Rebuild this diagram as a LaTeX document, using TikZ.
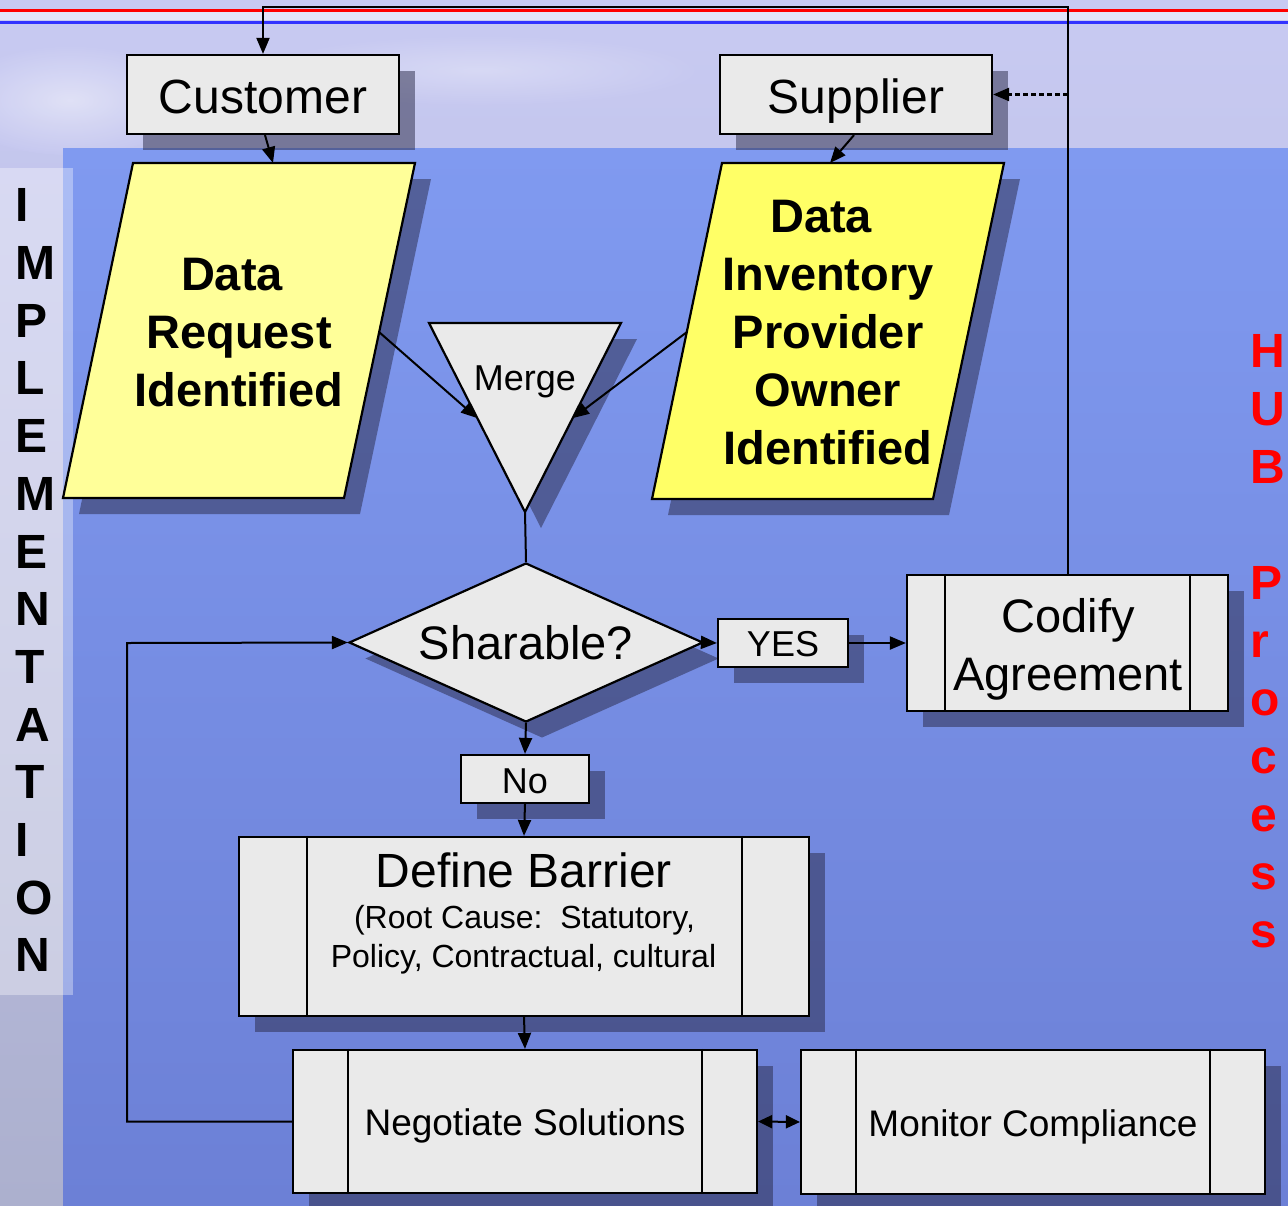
\documentclass[tikz,border=0pt]{standalone}
\usepackage{fontspec}
\setmainfont{Liberation Sans}
\usetikzlibrary{shadows,arrows.meta,calc,shapes.geometric}

\definecolor{boxgray}{RGB}{234,234,234}
\definecolor{ylight}{RGB}{255,255,153}
\definecolor{ybright}{RGB}{255,255,102}
\definecolor{shcol}{RGB}{40,40,70}
\definecolor{skytop}{RGB}{200,202,242}
\definecolor{skybot}{RGB}{172,176,206}
\definecolor{seatop}{RGB}{128,154,240}
\definecolor{seabot}{RGB}{108,128,214}
\definecolor{hubred}{RGB}{255,0,0}
\definecolor{lineblue}{RGB}{50,50,255}

\begin{document}
\begin{tikzpicture}[x=1pt,y=-1pt,
  shad/.style={drop shadow={shadow xshift=16pt,shadow yshift=-16pt,fill=shcol,opacity=0.5}},
  box/.style={draw=black,line width=2.2pt,fill=boxgray,inner sep=0pt,shad},
  inner/.style={draw=black,line width=1.6pt},
  conn/.style={line width=2pt,draw=black},
  arr/.style={conn,-{Triangle[length=16pt,width=13pt]}},
  lbl/.style={inner sep=0pt,anchor=base,text=black},
  big/.style={font=\fontsize{48}{58}\selectfont},
  mid/.style={font=\fontsize{37}{44}\selectfont},
  para/.style={draw=black,line width=2.2pt,shad},
]
\useasboundingbox (0,0) rectangle (1288,1205);
% background
\shade[top color=skytop,bottom color=skybot] (0,0) rectangle (1288,1205);
\shade[inner color=white,outer color=skytop,opacity=0.45] (70,100) ellipse (120pt and 55pt);
\shade[inner color=white,outer color=skytop,opacity=0.3] (480,70) ellipse (220pt and 35pt);
\shade[top color=seatop,bottom color=seabot] (63,148) rectangle (1288,1205);
\fill[white,opacity=0.35] (0,168) rectangle (73,995);
% top rules
\fill[white,opacity=0.5] (0,12) rectangle (1288,20);
\draw[red,line width=3pt] (0,10.5) -- (1288,10.5);
\draw[lineblue,line width=3pt] (0,22) -- (1288,22);

% Customer / Supplier
\node[box,big,minimum width=272pt,minimum height=79pt,text height=37pt,text depth=0pt] (cust) at (263,94.5) {Customer};
\node[box,big,minimum width=272pt,minimum height=79pt,text height=37pt,text depth=0pt] (sup) at (856,94.5) {Supplier};

% parallelograms
\path[para,fill=ylight] (133,163) -- (415,163) -- (344,498) -- (63,498) -- cycle;
\coordinate (drtop) at (273,163);
\coordinate (drright) at (379,332);
\node[font=\bfseries\fontsize{47}{58}\selectfont,align=center,inner sep=0pt] (drt) at (239,333) {Data\hspace*{14pt}\\Request\\Identified};

\path[para,fill=ybright] (722,163) -- (1004,163) -- (933,499) -- (652,499) -- cycle;
\coordinate (ditop) at (830,163);
\coordinate (dileft) at (687,332);
\node[font=\bfseries\fontsize{47}{58}\selectfont,align=center,inner sep=0pt] (dit) at (828,333) {Data\hspace*{14pt}\\Inventory\\Provider\\Owner\\Identified};

% merge triangle
\path[para,fill=boxgray] (429,323) -- (621,323) -- (525,512) -- cycle;
\coordinate (mgl) at (477,418);
\coordinate (mgr) at (573,418);
\coordinate (mgb) at (525,512);
\node[lbl,font=\fontsize{36}{40}\selectfont] (mgt) at (525,390) {Merge};

% decision
\node[box,diamond,aspect=2.2,minimum width=354pt,minimum height=159pt,text height=34pt,text depth=0pt,font=\fontsize{47}{56}\selectfont] (sh) at (526,642.5) {Sharable?};
\node[box,font=\fontsize{36}{40}\selectfont,minimum width=130pt,minimum height=48pt,text height=26pt,text depth=0pt] (yes) at (783,643) {YES};
\node[box,font=\fontsize{36}{40}\selectfont,minimum width=128pt,minimum height=48pt,text height=28pt,text depth=0pt] (no) at (525,779) {No};

% codify
\node[box,minimum width=321pt,minimum height=136pt] (cod) at (1067.5,643) {};
\draw[inner] ([xshift=39pt]cod.north west) -- ([xshift=39pt]cod.south west);
\draw[inner] ([xshift=-39pt]cod.north east) -- ([xshift=-39pt]cod.south east);
\node[align=center,font=\fontsize{47}{58}\selectfont,inner sep=0pt] (codt) at (1068,649) {Codify\\Agreement};

% define barrier
\node[box,minimum width=570pt,minimum height=179pt] (db) at (524,926.5) {};
\draw[inner] ([xshift=69pt]db.north west) -- ([xshift=69pt]db.south west);
\draw[inner] ([xshift=-68pt]db.north east) -- ([xshift=-68pt]db.south east);
\node[lbl,font=\fontsize{48}{52}\selectfont] (dbt1) at (524,887) {Define Barrier};
\node[lbl,font=\fontsize{32}{36}\selectfont] (dbt2) at (524.5,928) {(Root Cause:\ \ Statutory,};
\node[lbl,font=\fontsize{32}{36}\selectfont] (dbt3) at (523.5,967) {Policy, Contractual, cultural};

% negotiate / monitor
\node[box,mid,minimum width=464pt,minimum height=143pt,text height=27pt,text depth=0pt] (neg) at (525,1121.5) {Negotiate Solutions};
\draw[inner] ([xshift=56pt]neg.north west) -- ([xshift=56pt]neg.south west);
\draw[inner] ([xshift=-56pt]neg.north east) -- ([xshift=-56pt]neg.south east);
\node[box,mid,minimum width=464pt,minimum height=144pt,text height=28pt,text depth=0pt] (mon) at (1033,1122) {Monitor Compliance};
\draw[inner] ([xshift=56pt]mon.north west) -- ([xshift=56pt]mon.south west);
\draw[inner] ([xshift=-56pt]mon.north east) -- ([xshift=-56pt]mon.south east);

% side texts
\node[font=\bfseries\fontsize{48}{57.7}\selectfont,align=left,inner sep=0pt,anchor=north west] (impl) at (15,188.6) {I\\M\\P\\L\\E\\M\\E\\N\\T\\A\\T\\I\\O\\N};
\node[font=\bfseries\fontsize{48}{58}\selectfont,align=left,inner sep=0pt,anchor=north west,text=hubred] (hub) at (1250,334.6) {H\\U\\B\\\mbox{}\\P\\r\\o\\c\\e\\s\\s};

% connectors
\coordinate (topl) at (263,7);
\coordinate (dj) at (1067.5,94.5);
\coordinate (loopc) at (127,643);
\draw[arr] (cod.north) |- (topl) -- (cust.north);
\draw[arr,line width=2.4pt,dash pattern=on 5pt off 3pt] (dj) -- (sup.east);
\draw[arr] ([xshift=2pt]cust.south) -- (drtop);
\draw[arr] ([xshift=-2pt]sup.south) -- (ditop);
\draw[arr] (drright) -- (mgl);
\draw[arr] (dileft) -- (mgr);
\draw[conn] (mgb) -- (sh.north);
\draw[arr] (sh.east) -- (yes.west);
\draw[arr] (yes.east) -- (cod.west);
\draw[arr] (sh.south) -- (no.north);
\draw[arr] (no.south) -- (db.north);
\draw[arr] (db.south) -- (neg.north);
\draw[conn,{Triangle[length=14pt,width=13pt]}-{Triangle[length=14pt,width=13pt]}] (neg.east) -- (mon.west);
\draw[arr] (neg.west) -| (loopc) -- (sh.west);
\end{tikzpicture}
\end{document}
